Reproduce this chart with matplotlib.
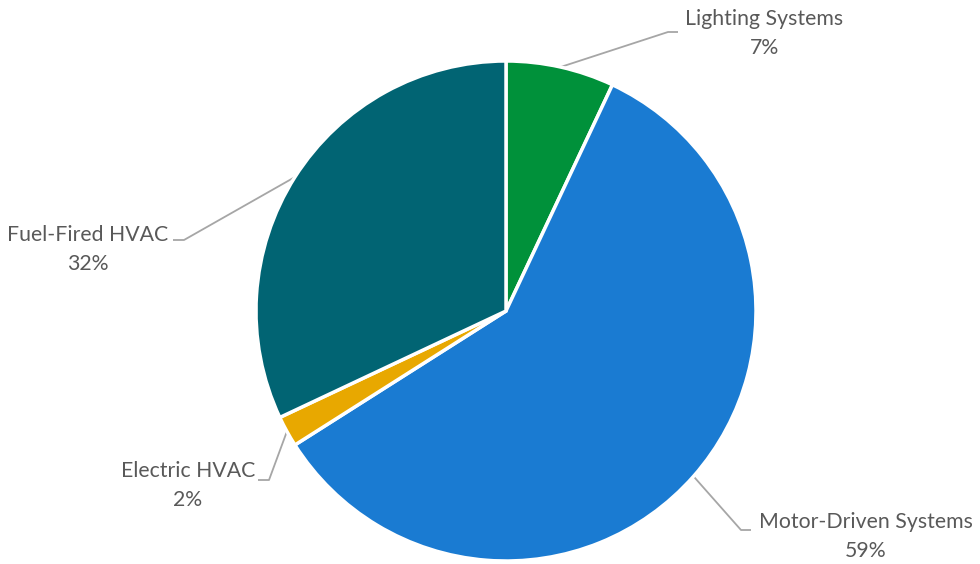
import numpy as np
import matplotlib
matplotlib.use("Agg")
import matplotlib.pyplot as plt

categories = ["Lighting Systems", "Motor-Driven Systems", "Electric HVAC", "Fuel-Fired HVAC"]
values = [7, 59, 2, 32]
colors = ["#00913A", "#1A7BD2", "#E8A800", "#016473"]

W, H = 980, 564
fig = plt.figure(figsize=(W / 100, H / 100), dpi=100)
ax = fig.add_axes([0, 0, 1, 1])

cx, cy, R = 506, H - 311, 250
wedges, _ = ax.pie(values, colors=colors, startangle=90, counterclock=False,
                   center=(cx, cy), radius=R,
                   wedgeprops=dict(edgecolor="white", linewidth=2.5))
ax.set_xlim(0, W)
ax.set_ylim(0, H)
ax.set_aspect("equal")
ax.axis("off")

# label layout (pixel coords, y from top): elbow, end, text anchor, alignment
layout = {
    "Lighting Systems": dict(elbow=(668, 32), end=(678, 32), text=(764, 19), ha="center"),
    "Motor-Driven Systems": dict(elbow=(741, 530), end=(751, 530), text=(866, 522), ha="center"),
    "Electric HVAC": dict(elbow=(269, 480), end=(258, 480), text=(188, 471), ha="center"),
    "Fuel-Fired HVAC": dict(elbow=(184, 240), end=(173, 240), text=(88, 235), ha="center"),
}

font = dict(family=["Lato", "DejaVu Sans"], size=15.3, color="#595959")
for w, cat, v in zip(wedges, categories, values):
    mid = np.deg2rad((w.theta1 + w.theta2) / 2)
    sx, sy = cx + R * np.cos(mid), cy + R * np.sin(mid)
    L = layout[cat]
    ex, ey = L["elbow"]
    tx, ty = L["end"]
    ax.plot([sx, ex, tx], [sy, H - ey, H - ty], color="#A6A6A6", lw=1.3,
            solid_capstyle="butt", zorder=0)
    x, y = L["text"]
    ax.text(x, H - y, cat, ha=L["ha"], va="center", **font)
    ax.text(x, H - y - 29, f"{v}%", ha=L["ha"], va="center", **font)

fig.savefig("out.png", dpi=100)
